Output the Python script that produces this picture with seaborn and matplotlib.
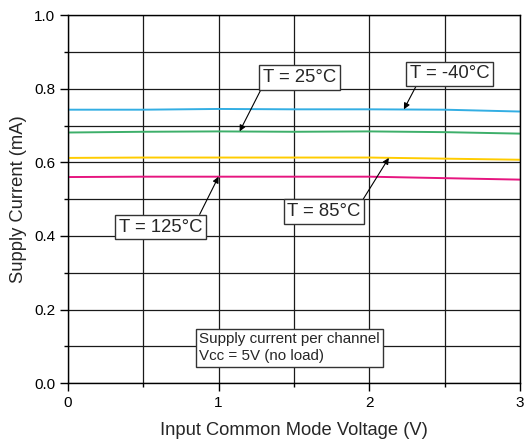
import matplotlib
matplotlib.use("Agg")
import matplotlib.pyplot as plt
import seaborn as sns
import pandas as pd
from matplotlib.ticker import MultipleLocator, FormatStrFormatter

# Supply current vs. input common-mode voltage at four temperatures
voltage = [0.0, 0.5, 1.0, 1.5, 2.0, 2.5, 3.0]
i_minus40 = [0.743, 0.743, 0.745, 0.744, 0.744, 0.743, 0.738]
i_25 = [0.681, 0.683, 0.684, 0.683, 0.684, 0.682, 0.678]
i_85 = [0.612, 0.613, 0.613, 0.613, 0.613, 0.610, 0.607]
i_125 = [0.560, 0.561, 0.561, 0.561, 0.561, 0.557, 0.553]

series_names = ["T = -40°C", "T = 25°C", "T = 85°C", "T = 125°C"]
series_values = [i_minus40, i_25, i_85, i_125]
series_colors = ["#33AEE3", "#3DAF6A", "#FFCC00", "#E6157F"]

rows = []
for name, vals in zip(series_names, series_values):
    for v, c in zip(voltage, vals):
        rows.append({"Voltage": v, "Current": c, "Temp": name})
df = pd.DataFrame(rows)

sns.set_theme(style="ticks")
plt.rcParams["font.family"] = ["Liberation Sans", "DejaVu Sans"]

fig = plt.figure(figsize=(5.30, 4.44), dpi=100)
ax = fig.add_axes([0.128, 0.137, 0.853, 0.829])

sns.lineplot(data=df, x="Voltage", y="Current", hue="Temp",
             palette=dict(zip(series_names, series_colors)),
             linewidth=1.4, legend=False, ax=ax)

ax.set_xlim(0, 3)
ax.set_ylim(0, 1.0)
ax.xaxis.set_major_locator(MultipleLocator(1))
ax.xaxis.set_minor_locator(MultipleLocator(0.5))
ax.yaxis.set_major_locator(MultipleLocator(0.2))
ax.yaxis.set_minor_locator(MultipleLocator(0.1))
ax.yaxis.set_major_formatter(FormatStrFormatter("%.1f"))
ax.grid(True, which="both", color="#1a1a1a", linewidth=0.9)
ax.set_axisbelow(True)
ax.tick_params(which="major", length=6, width=1, color="black",
               labelsize=11, pad=3, labelcolor="black")
ax.tick_params(which="minor", length=3, width=1, color="black")
for s in ax.spines.values():
    s.set_color("black")
    s.set_linewidth(1.0)

ax.set_xlabel("Input Common Mode Voltage (V)", fontsize=13.2, labelpad=9)
ax.set_ylabel("Supply Current (mA)", fontsize=13.2, labelpad=5)

box = dict(boxstyle="square,pad=0.2", facecolor="white",
           edgecolor="#333333", linewidth=1.0)
arrow = dict(arrowstyle="-|>", color="black", linewidth=0.8,
             mutation_scale=9, shrinkA=0, shrinkB=0)

ax.annotate("T = 25°C", xy=(1.14, i_25[2]), xytext=(1.536, 0.830),
            fontsize=13.3, bbox=box, ha="center", va="center",
            arrowprops=dict(arrow, relpos=(0.0, 0.0)))
ax.annotate("T = -40°C", xy=(2.23, 0.744), xytext=(2.535, 0.840),
            fontsize=13.3, bbox=box, ha="center", va="center",
            arrowprops=dict(arrow, relpos=(0.1, 0.0)))
ax.annotate("T = 125°C", xy=(1.0, i_125[2]), xytext=(0.617, 0.424),
            fontsize=13.3, bbox=box, ha="center", va="center",
            arrowprops=dict(arrow, relpos=(0.94, 1.0)))
ax.annotate("T = 85°C", xy=(2.13, 0.612), xytext=(1.70, 0.466),
            fontsize=13.3, bbox=box, ha="center", va="center",
            arrowprops=dict(arrow, relpos=(1.0, 1.0)))

ax.text(0.872, 0.0965, "Supply current per channel\nVcc = 5V (no load)",
        fontsize=10.9, ha="left", va="center", linespacing=1.3,
        bbox=dict(boxstyle="square,pad=0.22", facecolor="white",
                  edgecolor="#333333", linewidth=1.0))

fig.savefig("out.png", dpi=100)
